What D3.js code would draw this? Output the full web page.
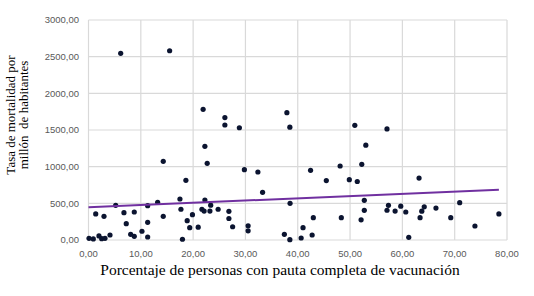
<!DOCTYPE html>
<html>
<head>
<meta charset="utf-8">
<script src="https://cdn.jsdelivr.net/npm/d3@7"></script>
<style>
html,body{margin:0;padding:0;background:#fff;}
svg{display:block;}
</style>
</head>
<body>
<svg id="chart" width="534" height="296"></svg>
<script>
const xTicks = [0,10,20,30,40,50,60,70,80];
const yTicks = [0,500,1000,1500,2000,2500,3000];
const vacunacion = [0.10,0.92,2.0,2.52,3.15,4.11,1.38,2.96,5.20,6.78,7.22,8.06,8.75,8.75,10.22,11.31,11.31,11.31,13.22,14.29,14.29,6.15,15.51,17.48,17.67,17.96,18.62,18.87,19.35,19.87,20.97,21.68,22.10,22.25,22.25,22.69,21.91,23.21,23.36,24.78,26.07,26.07,26.84,26.84,27.55,28.84,29.80,32.38,33.28,30.51,30.51,37.92,38.49,37.44,38.49,38.53,41.01,40.65,42.75,42.98,42.45,45.46,48.10,49.86,51.38,52.24,48.33,50.91,53.01,52.11,52.72,52.72,57.06,57.06,57.34,58.61,59.69,60.65,61.22,63.19,63.38,63.71,64.18,66.42,69.25,70.96,73.87,78.45];
const mortalidad = [23,14,55,18,23,68,355,323,473,372,222,78,50,382,119,41,241,468,514,323,1073,2546,2581,559,419,10,814,263,168,345,175,419,395,545,1278,1046,1782,395,475,419,1670,1568,391,293,181,1531,959,927,650,194,125,1736,1538,78,5,500,168,27,68,304,950,811,1009,822,798,1032,304,1564,1293,275,405,541,1514,406,473,395,461,382,37,845,304,393,453,436,304,509,191,355];
const trendX = [0, 78.45];
const trendY = [446, 686];
const xTitle = "Porcentaje de personas con pauta completa de vacunación";
const yTitle = ["Tasa de mortalidad por", "millón  de habitantes"];

const fmt = v => d3.format(".2f")(v).replace(".", ",");
const svg = d3.select("#chart");
const x = d3.scaleLinear().domain([0,80]).range([88.5,507]);
const y = d3.scaleLinear().domain([0,3000]).range([240,20]);

const grid = svg.append("g").attr("stroke","#d9d9d9").attr("stroke-width",1.2);
grid.selectAll("line.v").data(xTicks).join("line").attr("class","v")
  .attr("x1",d=>x(d)).attr("x2",d=>x(d)).attr("y1",y(0)).attr("y2",y(3000));
grid.selectAll("line.h").data(yTicks).join("line").attr("class","h")
  .attr("x1",x(0)).attr("x2",x(80)).attr("y1",d=>y(d)).attr("y2",d=>y(d));

const tickFont = "'Liberation Sans', Arial, sans-serif";
svg.append("g").selectAll("text").data(yTicks).join("text")
  .attr("x",79).attr("y",d=>y(d)).attr("dy","0.35em").attr("text-anchor","end")
  .attr("font-family",tickFont).attr("font-size",9.5).attr("fill","#595959").text(fmt);
svg.append("g").selectAll("text").data(xTicks).join("text")
  .attr("x",d=>x(d)).attr("y",257).attr("text-anchor","middle")
  .attr("font-family",tickFont).attr("font-size",9.5).attr("fill","#595959").text(fmt);

const pts = vacunacion.map((v,i)=>({x:v,y:mortalidad[i]}));
svg.append("g").selectAll("circle").data(pts).join("circle")
  .attr("cx",d=>x(d.x)).attr("cy",d=>y(d.y)).attr("r",2.6).attr("fill","#0b1430");

svg.append("path").datum(trendX.map((v,i)=>[v,trendY[i]]))
  .attr("d",d3.line().x(d=>x(d[0])).y(d=>y(d[1])))
  .attr("stroke","#7030a0").attr("stroke-width",2).attr("fill","none");

const serif = "'Liberation Serif', 'Times New Roman', serif";
svg.append("text").attr("x",280).attr("y",275).attr("text-anchor","middle")
  .attr("font-family",serif).attr("font-size",15.5).attr("fill","#000").text(xTitle);
const yt = svg.append("text").attr("transform","translate(11,115) rotate(-90)")
  .attr("text-anchor","middle").attr("font-family",serif).attr("font-size",13).attr("fill","#000");
yt.selectAll("tspan").data(yTitle).join("tspan").attr("x",0).attr("y",(d,i)=>4+i*13)
  .attr("xml:space","preserve").style("white-space","pre").text(d=>d);
</script>
</body>
</html>
